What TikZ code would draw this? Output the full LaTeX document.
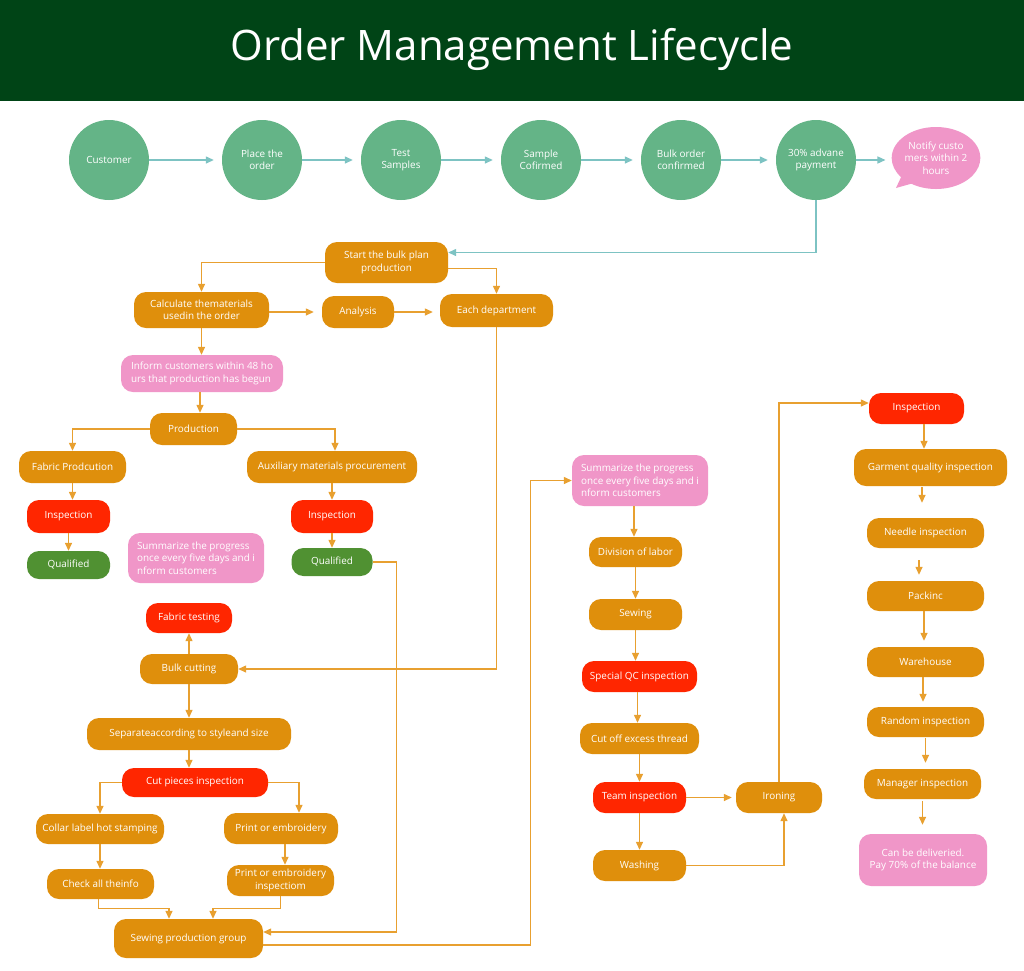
\documentclass[tikz,border=0pt]{standalone}
\usepackage{fontspec}
\setmainfont{Open Sans}
\usetikzlibrary{arrows.meta,shapes.geometric,shapes.callouts,calc}
\definecolor{hdr}{RGB}{0,68,22}
\definecolor{cgreen}{RGB}{100,180,135}
\definecolor{tline}{RGB}{125,195,195}
\definecolor{corange}{RGB}{223,143,12}
\definecolor{oline}{RGB}{232,160,48}
\definecolor{cred}{RGB}{255,38,0}
\definecolor{cpink}{RGB}{240,150,200}
\definecolor{cqual}{RGB}{80,145,50}
\begin{document}
\begin{tikzpicture}[x=1pt,y=-1pt,
  base/.style={text=white, font=\fontsize{9.9}{12.4}\selectfont, inner sep=2pt, align=center},
  sz/.style 2 args={minimum width=#1pt, minimum height=#2pt},
  circ/.style={base, circle, fill=cgreen, minimum size=80pt},
  ob/.style={base, rounded corners=12pt, fill=corange},
  rb/.style={base, rounded corners=12pt, fill=cred},
  pb/.style={base, rounded corners=12pt, fill=cpink},
  gb/.style={base, rounded corners=12pt, fill=cqual},
  oarr/.style={draw=oline, line width=1.3pt, -{Triangle[length=8pt,width=7pt]}},
  tarr/.style={draw=tline, line width=1.3pt, -{Triangle[length=8pt,width=7pt]}},
]
\useasboundingbox (0,0) rectangle (1024,970);
\fill[white] (0,0) rectangle (1024,970);
\fill[hdr] (0,0) rectangle (1024,101);
\node[text=white, font=\fontsize{42}{50}\selectfont] (title) at (512,49) {Order Management Lifecycle};

% top row
\node[circ] (cust) at (109,160) {Customer};
\node[circ] (place) at (262,160) {Place the\\order};
\node[circ] (test) at (401,160) {Test\\Samples};
\node[circ] (sconf) at (541,160) {Sample\\Cofirmed};
\node[circ] (bulko) at (681,160) {Bulk order\\confirmed};
\node[circ] (pay) at (816,160) {30\% advane\\payment};
\node[base, ellipse callout, fill=cpink, sz={86}{62}, inner sep=0pt,
      callout absolute pointer={(896,188)}, callout pointer arc=18] (notify) at (936,158)
      {Notify custo\\mers within 2\\hours};

\draw[tarr, shorten >=8pt] (cust) -- (place);
\draw[tarr, shorten >=8pt] (place) -- (test);
\draw[tarr, shorten >=8pt] (test) -- (sconf);
\draw[tarr, shorten >=8pt] (sconf) -- (bulko);
\draw[tarr, shorten >=8pt] (bulko) -- (pay);
\draw[tarr, shorten >=6pt] (pay.east) -- (pay.east -| notify.west);

% middle-left block
\node[ob, sz={123}{41}] (start) at (386.5,262.5) {Start the bulk plan\\production};
\node[ob, sz={135}{36}] (calc) at (201.5,310) {Calculate thematerials\\usedin the order};
\node[ob, sz={72}{32}] (anal) at (358,312) {Analysis};
\node[ob, sz={113}{33}] (each) at (496.5,310.5) {Each department};
\node[pb, sz={162}{37}, align=left] (inform) at (202,373.5) {Inform customers within 48 ho\\urs that production has begun};
\node[ob, sz={87}{32}] (prod) at (193.5,429) {Production};
\node[ob, sz={107}{32}] (fab) at (72.5,467) {Fabric Prodcution};
\node[ob, sz={170}{32}] (aux) at (332,467) {Auxiliary materials procurement};
\node[rb, sz={83}{33}] (insp1) at (68.5,516.5) {Inspection};
\node[gb, sz={83}{28}] (qual1) at (68.5,565) {Qualified};
\node[pb, sz={136}{50}, align=left] (sumL) at (196,558) {Summarize the progress\\once every five days and i\\nform customers};
\node[rb, sz={82}{33}] (insp2) at (332,516.5) {Inspection};
\node[gb, sz={81}{28}] (qual2) at (332,562) {Qualified};
\node[rb, sz={86}{30}] (ftest) at (189,618) {Fabric testing};
\node[ob, sz={98}{30}] (bulk) at (189,669) {Bulk cutting};
\node[ob, sz={204}{32}] (sep) at (189,734) {Separateaccording to styleand size};
\node[rb, sz={146}{29}] (cutp) at (195,782.5) {Cut pieces inspection};
\node[ob, sz={128}{30}] (collar) at (100,829) {Collar label hot stamping};
\node[ob, sz={114}{31}] (print) at (281,828.5) {Print or embroidery};
\node[ob, sz={107}{30}] (check) at (100.5,884) {Check all theinfo};
\node[ob, sz={107}{31}] (pinsp) at (280.5,880.5) {Print or embroidery\\inspectiom};
\node[ob, sz={149}{39}] (sewg) at (188.5,938.5) {Sewing production group};

% middle-right column
\node[pb, sz={136}{51}, align=left] (sumR) at (640,480.5) {Summarize the progress\\once every five days and i\\nform customers};
\node[ob, sz={93}{30}] (div) at (635.5,552) {Division of labor};
\node[ob, sz={93}{31}] (sew) at (635.5,614.5) {Sewing};
\node[rb, sz={115}{31}] (sqc) at (639.5,676.5) {Special QC inspection};
\node[ob, sz={119}{31}] (cutoff) at (639.5,738.5) {Cut off excess thread};
\node[rb, sz={93}{31}] (team) at (639.5,797.5) {Team inspection};
\node[ob, sz={86}{31}] (iron) at (779,797.5) {Ironing};
\node[ob, sz={93}{31}] (wash) at (639.5,865.5) {Washing};

% right column
\node[rb, sz={95}{31}] (insp3) at (916.5,408.5) {Inspection};
\node[ob, sz={153}{37}] (garm) at (930.5,467.5) {Garment quality inspection};
\node[ob, sz={117}{30}] (needle) at (925.5,533) {Needle inspection};
\node[ob, sz={117}{30}] (pack) at (925.5,596) {Packinc};
\node[ob, sz={117}{30}] (ware) at (925.5,662) {Warehouse};
\node[ob, sz={117}{30}] (rand) at (925.5,722) {Random inspection};
\node[ob, sz={117}{30}] (mgr) at (922.5,784) {Manager inspection};
\node[pb, sz={128}{52}] (can) at (923,860) {Can be deliveried.\\Pay 70\% of the balance};

% connectors
\draw[tarr] (pay.south) |- ([yshift=10pt]start.east);
\draw[oarr] (start.west) -| (calc.north);
\draw[oarr] ([yshift=-6pt]start.east) -| (each.north);
\draw[oarr, shorten >=8pt] (calc.east |- anal.west) -- (anal.west);
\draw[oarr, shorten >=7pt] (anal.east) -- (anal.east -| each.west);
\draw[oarr] (calc.south) -- (calc.south |- inform.north);
\draw[oarr] ([xshift=-2pt]inform.south) -- ([xshift=-2pt]inform.south |- prod.north);
\draw[oarr] (prod.west) -| (fab.north);
\draw[oarr] (prod.east) -| ([xshift=3pt]aux.north);
\draw[oarr] (fab.south) -- (fab.south |- insp1.north);
\draw[oarr] (insp1.south) -- (qual1.north);
\draw[oarr] (aux.south) -- (aux.south |- insp2.north);
\draw[oarr] (insp2.south) -- (qual2.north);
\draw[oarr] (qual2.east) -- ++(24,0) |- ([yshift=6.5pt]sewg.east);
\draw[oarr] (each.south) |- (bulk.east);
\draw[oarr] (bulk.north) -- (ftest.south);
\draw[oarr] (bulk.south) -- (sep.north);
\draw[oarr] (sep.south) -- (sep.south |- cutp.north);
\draw[oarr] (cutp.west) -| (collar.north);
\draw[oarr] (cutp.east) -| ([xshift=18pt]print.north);
\draw[oarr] (collar.south) -- (collar.south |- check.north);
\draw[oarr] ([xshift=4pt]print.south) -- ([xshift=4pt]print.south |- pinsp.north);
\draw[oarr] ([xshift=-2pt]check.south) -- ++(0,9) -| ([xshift=-19.5pt]sewg.north);
\draw[oarr] (pinsp.south) -- ++(0,12) -| ([xshift=24.5pt]sewg.north);
\draw[oarr] ([yshift=-6.5pt]sewg.east) -| ($(sumR.west)+(-41,0)$) -- (sumR.west);
\draw[oarr] ([xshift=-6pt]sumR.south) -- ([xshift=-6pt]sumR.south |- div.north);
\draw[oarr] (div.south) -- (sew.north);
\draw[oarr] (sew.south) -- (sew.south |- sqc.north);
\draw[oarr] ([xshift=-2pt]sqc.south) -- ([xshift=-2pt]sqc.south |- cutoff.north);
\draw[oarr] (cutoff.south) -- (team.north);
\draw[oarr, shorten >=4pt] (team.east) -- (iron.west);
\draw[oarr] (team.south) -- (wash.north);
\draw[oarr] (wash.east) -| ([xshift=5pt]iron.south);
\draw[oarr] (iron.north) |- ([yshift=5.5pt]insp3.west);
\draw[oarr] ([xshift=7.5pt]insp3.south) -- ([xshift=7.5pt]insp3.south |- garm.north);
\draw[oarr, shorten <=1pt, shorten >=15pt] ([xshift=-8.5pt]garm.south) -- ([xshift=-8.5pt]garm.south |- needle.north);
\draw[oarr, shorten <=12pt, shorten >=6pt] ([xshift=-6.5pt]needle.south) -- ([xshift=-6.5pt]needle.south |- pack.north);
\draw[oarr, shorten >=6pt] ([xshift=-1.5pt]pack.south) -- ([xshift=-1.5pt]pack.south |- ware.north);
\draw[oarr, shorten >=5pt] ([xshift=-2.5pt]ware.south) -- ([xshift=-2.5pt]ware.south |- rand.north);
\draw[oarr, shorten <=1pt, shorten >=6pt] (rand.south) -- (rand.south |- mgr.north);
\draw[oarr, shorten <=2pt, shorten >=9pt] (mgr.south) -- (mgr.south |- can.north);
\end{tikzpicture}
\end{document}
